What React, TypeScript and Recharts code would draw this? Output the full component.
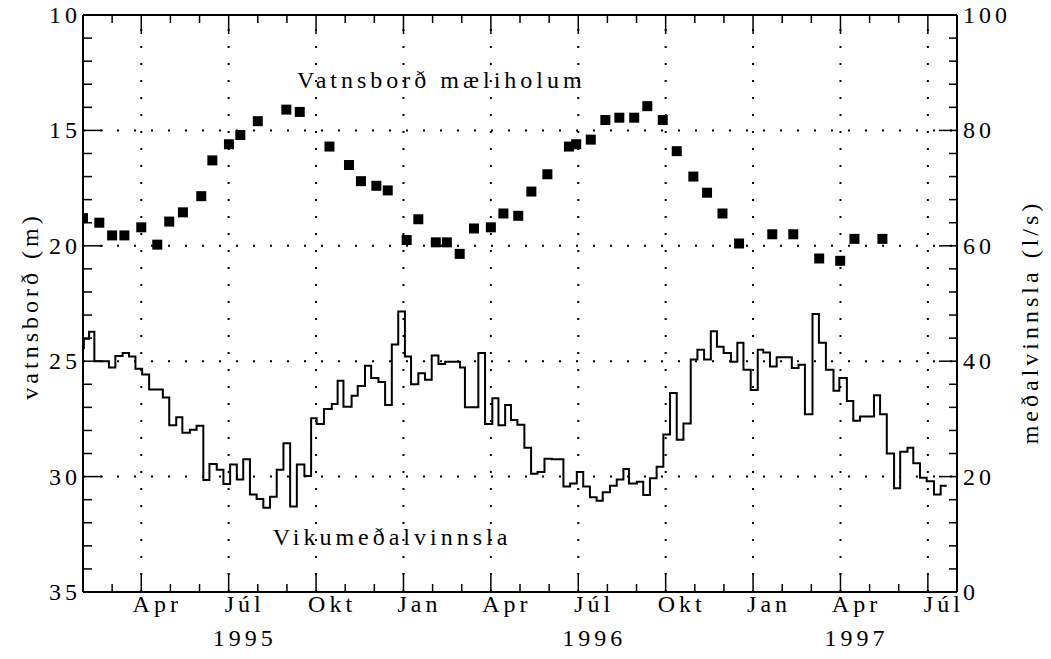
import {
  ComposedChart,
  Line,
  Scatter,
  XAxis,
  YAxis,
  ReferenceLine,
  ReferenceDot,
} from "recharts";

// x = months after 1 Jan 1995 (1 = 1 Feb 1995, 31 = 1 Aug 1997)
const monthTicks = [
  1, 2, 3, 4, 5, 6, 7, 8, 9, 10, 11, 12, 13, 14, 15, 16, 17, 18, 19, 20, 21, 22,
  23, 24, 25, 26, 27, 28, 29, 30, 31,
];
const quarterTicks = [3, 6, 9, 12, 15, 18, 21, 24, 27, 30];
const quarterLabels = ["Apr", "Júl", "Okt", "Jan", "Apr", "Júl", "Okt", "Jan", "Apr", "Júl"];
const yearTicks = [6, 18, 27];
const yearLabels = ["1995", "1996", "1997"];

const levelTicks = [
  10, 11, 12, 13, 14, 15, 16, 17, 18, 19, 20, 21, 22, 23, 24, 25, 26, 27, 28, 29,
  30, 31, 32, 33, 34, 35,
];
const levelLabels = [10, 15, 20, 25, 30, 35];
const levelGrid = [15, 20, 25, 30];
const pumpTicks = [
  0, 4, 8, 12, 16, 20, 24, 28, 32, 36, 40, 44, 48, 52, 56, 60, 64, 68, 72, 76, 80,
  84, 88, 92, 96, 100,
];
const pumpLabels = [0, 20, 40, 60, 80, 100];

// vatnsborð í mæliholu (m)
const levelMonths = [
  1.0, 1.56, 2.0, 2.42, 3.0, 3.55, 3.96, 4.43, 5.06, 5.44, 6.01, 6.4, 7.0, 7.98,
  8.44, 9.46, 10.13, 10.54, 11.07, 11.46, 12.11, 12.51, 13.11, 13.49, 13.93,
  14.42, 15.0, 15.43, 15.94, 16.39, 16.94, 17.68, 17.93, 18.43, 18.93, 19.41,
  19.92, 20.37, 20.9, 21.38, 21.95, 22.42, 22.95, 23.52, 24.66, 25.38, 26.27,
  26.99, 27.48, 28.44,
];
const levelValues = [
  18.8, 19.0, 19.55, 19.55, 19.2, 19.95, 18.95, 18.55, 17.85, 16.3, 15.6, 15.2,
  14.6, 14.1, 14.2, 15.7, 16.5, 17.2, 17.4, 17.6, 19.75, 18.85, 19.85, 19.85,
  20.35, 19.25, 19.2, 18.6, 18.7, 17.65, 16.9, 15.7, 15.6, 15.4, 14.55, 14.45,
  14.45, 13.95, 14.55, 15.9, 17.0, 17.7, 18.6, 19.9, 19.5, 19.5, 20.55, 20.65,
  19.7, 19.7,
];

// vikumeðalvinnsla (l/s), step starts
const pumpMonths = [
  1.0, 1.03, 1.21, 1.39, 1.89, 2.11, 2.36, 2.58, 2.8, 3.03, 3.27, 3.74, 3.96, 4.2,
  4.41, 4.67, 4.9, 5.13, 5.34, 5.59, 5.82, 6.05, 6.28, 6.5, 6.73, 6.96, 7.19,
  7.42, 7.65, 7.88, 8.11, 8.34, 8.6, 8.83, 9.02, 9.27, 9.54, 9.74, 9.94, 10.22,
  10.43, 10.68, 10.89, 11.14, 11.37, 11.6, 11.82, 12.05, 12.26, 12.51, 12.74,
  12.97, 13.2, 13.43, 13.94, 14.11, 14.57, 14.8, 15.05, 15.26, 15.49, 15.69,
  15.91, 16.15, 16.38, 16.6, 16.84, 17.09, 17.49, 17.72, 17.95, 18.17, 18.4,
  18.63, 18.84, 19.09, 19.32, 19.55, 19.74, 20.01, 20.23, 20.46, 20.69, 20.92,
  21.15, 21.38, 21.61, 21.86, 22.09, 22.32, 22.55, 22.76, 22.99, 23.24, 23.46,
  23.67, 23.92, 24.16, 24.35, 24.58, 24.81, 25.33, 25.56, 25.78, 26.04, 26.26,
  26.5, 26.76, 26.96, 27.22, 27.44, 27.67, 28.15, 28.36, 28.59, 28.84, 29.05,
  29.3, 29.5, 29.73, 29.96, 30.21, 30.44, 30.65,
];
const pumpValues = [
  42.3, 43.9, 45.1, 40.0, 38.9, 40.9, 41.4, 40.8, 38.7, 37.7, 35.1, 33.7, 28.9,
  30.3, 27.6, 28.1, 28.8, 19.4, 22.2, 21.2, 18.7, 22.1, 19.5, 23.0, 16.9, 16.1,
  14.6, 16.5, 21.2, 25.8, 14.8, 22.1, 20.1, 30.1, 29.1, 31.7, 32.6, 36.6, 32.1,
  34.0, 35.7, 39.2, 37.1, 36.4, 32.4, 42.9, 48.6, 40.8, 36.0, 37.9, 36.8, 41.0,
  39.5, 39.9, 38.9, 32.0, 41.4, 29.1, 33.6, 28.9, 32.4, 29.8, 29.0, 25.0, 20.5,
  20.8, 23.1, 23.0, 18.3, 18.8, 20.8, 18.3, 16.4, 15.8, 17.3, 18.4, 19.5, 21.3,
  18.8, 19.1, 16.8, 19.7, 21.7, 27.3, 34.5, 26.4, 29.2, 40.3, 42.0, 40.3, 45.2,
  42.5, 41.4, 39.9, 43.2, 38.5, 35.0, 42.0, 41.5, 39.1, 40.7, 38.8, 39.4, 30.8,
  48.2, 43.2, 38.5, 34.9, 37.1, 33.1, 29.7, 30.4, 34.1, 30.8, 24.0, 18.0, 24.3,
  25.0, 22.3, 19.8, 19.2, 16.9, 18.4, 18.4,
];

const levelData = levelMonths.map((m, i) => ({ m, level: levelValues[i] }));
const pumpData = pumpMonths.map((m, i) => ({ m, v: pumpValues[i] }));

const serif = "'Liberation Serif', 'DejaVu Serif', serif";
const textStyle = { fontFamily: serif, fontSize: 24, letterSpacing: "4px", fill: "#000" };
const axisStroke = { stroke: "#000", strokeWidth: 2 };
const dotted = { stroke: "#000", strokeWidth: 2, strokeDasharray: "2 15" };

function BottomTick({ x, y, payload }: any) {
  const qi = quarterTicks.indexOf(payload.value);
  const yi = yearTicks.indexOf(payload.value);
  return (
    <g>
      <line x1={x} y1={y} x2={x} y2={y - (qi >= 0 ? 19 : 8)} stroke="#000" strokeWidth={1.5} />
      {qi >= 0 && (
        <text x={x + 16} y={y + 20} textAnchor="middle" style={textStyle}>
          {quarterLabels[qi]}
        </text>
      )}
      {yi >= 0 && (
        <text x={x + 16} y={y + 54} textAnchor="middle" style={textStyle}>
          {yearLabels[yi]}
        </text>
      )}
    </g>
  );
}

function TopTick({ x, y, payload }: any) {
  const major = quarterTicks.includes(payload.value);
  return <line x1={x} y1={y} x2={x} y2={y + (major ? 19 : 8)} stroke="#000" strokeWidth={1.5} />;
}

function LeftTick({ x, y, payload }: any) {
  const major = levelLabels.includes(payload.value);
  return (
    <g>
      <line x1={x} y1={y} x2={x + (major ? 20 : 9)} y2={y} stroke="#000" strokeWidth={1.5} />
      {major && (
        <text x={x - 2} y={y + 8} textAnchor="end" style={textStyle}>
          {payload.value}
        </text>
      )}
    </g>
  );
}

function RightTick({ x, y, payload }: any) {
  const major = pumpLabels.includes(payload.value);
  return (
    <g>
      <line x1={x} y1={y} x2={x - (major ? 18 : 8)} y2={y} stroke="#000" strokeWidth={1.5} />
      {major && (
        <text x={x + 6} y={y + 8} textAnchor="start" style={textStyle}>
          {payload.value}
        </text>
      )}
    </g>
  );
}

function Note({ viewBox, text }: any) {
  if (!viewBox) return null;
  return (
    <text x={viewBox.x} y={viewBox.y + 8} textAnchor="middle" style={textStyle}>
      {text}
    </text>
  );
}

const titleStyle: any = {
  position: "absolute",
  transform: "translate(-50%, -50%) rotate(-90deg)",
  whiteSpace: "nowrap",
  fontFamily: serif,
  fontSize: 24,
  letterSpacing: "4px",
  color: "#000",
};

export default function App() {
  return (
    <div style={{ position: "absolute", left: 0, top: 0, width: 1051, height: 659, background: "#fff" }}>
      <ComposedChart width={1051} height={659} margin={{ top: 14, right: 0, bottom: 0, left: 0 }}>
        <XAxis
          xAxisId="b"
          type="number"
          dataKey="m"
          domain={[1, 31]}
          ticks={monthTicks}
          interval={0}
          tickSize={0}
          tickMargin={0}
          tickLine={false}
          height={67}
          axisLine={axisStroke}
          tick={(p: any) => <BottomTick {...p} />}
          allowDataOverflow
        />
        <XAxis
          xAxisId="t"
          orientation="top"
          type="number"
          dataKey="m"
          domain={[1, 31]}
          ticks={monthTicks}
          interval={0}
          tickSize={0}
          tickMargin={0}
          tickLine={false}
          height={1}
          axisLine={axisStroke}
          tick={(p: any) => <TopTick {...p} />}
          allowDataOverflow
        />
        <YAxis
          yAxisId="level"
          orientation="left"
          type="number"
          domain={[10, 35]}
          reversed
          ticks={levelTicks}
          interval={0}
          tickSize={0}
          tickMargin={0}
          tickLine={false}
          width={83}
          axisLine={axisStroke}
          tick={(p: any) => <LeftTick {...p} />}
          allowDataOverflow
        />
        <YAxis
          yAxisId="pump"
          orientation="right"
          type="number"
          domain={[0, 100]}
          ticks={pumpTicks}
          interval={0}
          tickSize={0}
          tickMargin={0}
          tickLine={false}
          width={94}
          axisLine={axisStroke}
          tick={(p: any) => <RightTick {...p} />}
          allowDataOverflow
        />

        {quarterTicks.map((q) => (
          <ReferenceLine key={"q" + q} x={q} xAxisId="b" yAxisId="level" {...dotted} />
        ))}
        {levelGrid.map((g) => (
          <ReferenceLine key={"g" + g} y={g} xAxisId="b" yAxisId="level" {...dotted} />
        ))}

        <Line
          xAxisId="b"
          yAxisId="pump"
          data={pumpData}
          dataKey="v"
          type="stepAfter"
          stroke="#000"
          strokeWidth={2}
          dot={false}
          activeDot={false}
          isAnimationActive={false}
        />
        <Scatter
          xAxisId="b"
          yAxisId="level"
          data={levelData}
          dataKey="level"
          isAnimationActive={false}
          shape={(p: any) => <rect x={p.cx - 5} y={p.cy - 5} width={10} height={10} fill="#000" />}
        />

        <ReferenceDot
          xAxisId="b"
          yAxisId="level"
          x={13.3}
          y={12.82}
          r={0}
          fill="none"
          stroke="none"
          label={(p: any) => <Note {...p} text="Vatnsborð mæliholum" />}
        />
        <ReferenceDot
          xAxisId="b"
          yAxisId="pump"
          x={11.61}
          y={9.5}
          r={0}
          fill="none"
          stroke="none"
          label={(p: any) => <Note {...p} text="Vikumeðalvinnsla" />}
        />
      </ComposedChart>
      <div style={{ ...titleStyle, left: 30, top: 306 }}>vatnsborð (m)</div>
      <div style={{ ...titleStyle, left: 1030, top: 322 }}>meðalvinnsla (l/s)</div>
    </div>
  );
}
